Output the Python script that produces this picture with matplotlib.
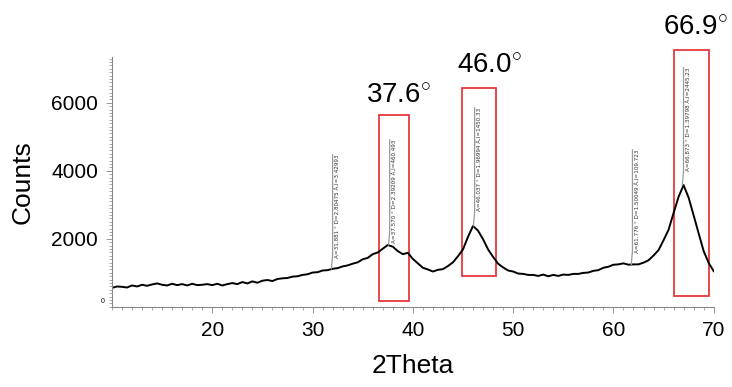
import matplotlib
matplotlib.use("Agg")
import matplotlib.pyplot as plt
from matplotlib.patches import Rectangle
from matplotlib.ticker import MultipleLocator

plt.rcParams['font.family'] = ['Liberation Sans', 'DejaVu Sans']
plt.rcParams['mathtext.fontset'] = 'custom'
plt.rcParams['mathtext.rm'] = 'Liberation Sans'

# XRD pattern
two_theta = [10.0, 10.5, 11.0, 11.5, 12.0, 12.5, 13.0, 13.5, 14.0, 14.5,
             15.0, 15.5, 16.0, 16.5, 17.0, 17.5, 18.0, 18.5, 19.0, 19.5,
             20.0, 20.5, 21.0, 21.5, 22.0, 22.5, 23.0, 23.5, 24.0, 24.5,
             25.0, 25.5, 26.0, 26.5, 27.0, 27.5, 28.0, 28.5, 29.0, 29.5,
             30.0, 30.5, 31.0, 31.5, 32.0, 32.5, 33.0, 33.5, 34.0, 34.5,
             35.0, 35.5, 36.0, 36.5, 37.0, 37.5, 38.0, 38.5, 39.0, 39.5,
             40.0, 40.5, 41.0, 41.5, 42.0, 42.5, 43.0, 43.5, 44.0, 44.5,
             45.0, 45.5, 46.0, 46.5, 47.0, 47.5, 48.0, 48.5, 49.0, 49.5,
             50.0, 50.5, 51.0, 51.5, 52.0, 52.5, 53.0, 53.5, 54.0, 54.5,
             55.0, 55.5, 56.0, 56.5, 57.0, 57.5, 58.0, 58.5, 59.0, 59.5,
             60.0, 60.5, 61.0, 61.5, 62.0, 62.5, 63.0, 63.5, 64.0, 64.5,
             65.0, 65.5, 66.0, 66.5, 67.0, 67.5, 68.0, 68.5, 69.0, 69.5,
             70.0]
counts = [560, 600, 590, 570, 630, 600, 650, 620, 660, 690,
          650, 630, 680, 640, 670, 630, 680, 640, 650, 670,
          640, 680, 630, 670, 700, 670, 730, 690, 750, 710,
          770, 790, 760, 820, 840, 850, 890, 900, 940, 960,
          1010, 1020, 1070, 1080, 1120, 1140, 1190, 1220, 1270, 1310,
          1400, 1440, 1550, 1600, 1710, 1820, 1770, 1640, 1550, 1590,
          1410, 1280, 1150, 1100, 1040, 1090, 1110, 1200, 1310, 1490,
          1690, 2060, 2380, 2240, 1990, 1690, 1470, 1270, 1160, 1070,
          1040, 980, 970, 940, 940, 910, 950, 900, 940, 910,
          950, 940, 970, 970, 1000, 1010, 1060, 1080, 1150, 1180,
          1240, 1250, 1280, 1240, 1250, 1250, 1300, 1370, 1510, 1670,
          1960, 2270, 2760, 3240, 3580, 3210, 2690, 2160, 1640, 1290,
          1050]

# peak markers: position, curve height, top of marker line, label
peak_pos = [31.88, 37.57, 46.04, 61.78, 66.87]
peak_base = [1120, 1820, 2380, 1250, 3580]
peak_top = [4470, 4910, 5850, 4620, 7030]
peak_text = ["A=31.881 ° D=2.80475 Å,I=3.42993",
             "A=37.570 ° D=2.39209 Å,I=460.493",
             "A=46.037 ° D=1.96994 Å,I=1450.33",
             "A=61.776 ° D=1.50049 Å,I=109.723",
             "A=66.873 ° D=1.39798 Å,I=2445.23"]

# highlighted peaks: box x range, box y range, label
box_x = [(36.65, 39.64), (44.93, 48.32), (66.0, 69.5)]
box_y = [(180, 5650), (910, 6440), (320, 7560)]
box_label = ["37.6", "46.0", "66.9"]
box_label_pos = [(35.35, 6000), (44.45, 6880), (64.9, 8000)]

fig = plt.figure(figsize=(7.32, 3.87), dpi=100)
ax = fig.add_axes([0.153, 0.207, 0.822, 0.646])

ax.plot(two_theta, counts, color='black', lw=1.4)

for x, yb, yt, t in zip(peak_pos, peak_base, peak_top, peak_text):
    ax.plot([x, x + 0.12, x + 0.12], [yb, yb + 400, yt], color='#999999', lw=0.9)
    ax.text(x + 0.3, yt, t, rotation=90, ha='left', va='top', fontsize=4.1,
            color='#333333', family='DejaVu Sans')

for (x0, x1), (y0, y1), lab, (lx, ly) in zip(box_x, box_y, box_label, box_label_pos):
    ax.add_patch(Rectangle((x0, y0), x1 - x0, y1 - y0, fill=False,
                           edgecolor='#e8383d', lw=1.3, clip_on=False))
    ax.text(lx, ly, lab + r"$^{\circ}$", ha='left', va='baseline', fontsize=20)

ax.set_xlim(10, 70)
ax.set_ylim(0, 7350)
ax.xaxis.set_minor_locator(MultipleLocator(1))
ax.yaxis.set_minor_locator(MultipleLocator(100))
ax.set_xticks([20, 30, 40, 50, 60, 70])
ax.set_yticks([2000, 4000, 6000])
ax.tick_params(axis='both', which='major', labelsize=15, length=4, width=0.6,
               color='#888888', pad=6)
ax.tick_params(axis='both', which='minor', length=2, width=0.5, color='#888888')
ax.text(-0.012, 0.02, "0", transform=ax.transAxes, fontsize=5, ha='right', va='center')

for s in ['top', 'right']:
    ax.spines[s].set_visible(False)
for s in ['left', 'bottom']:
    ax.spines[s].set_color('#888888')
    ax.spines[s].set_linewidth(0.8)

ax.set_xlabel("2Theta", fontsize=19, labelpad=10)
ax.set_ylabel("Counts", fontsize=19, labelpad=12)

fig.savefig("out.png", dpi=100)
